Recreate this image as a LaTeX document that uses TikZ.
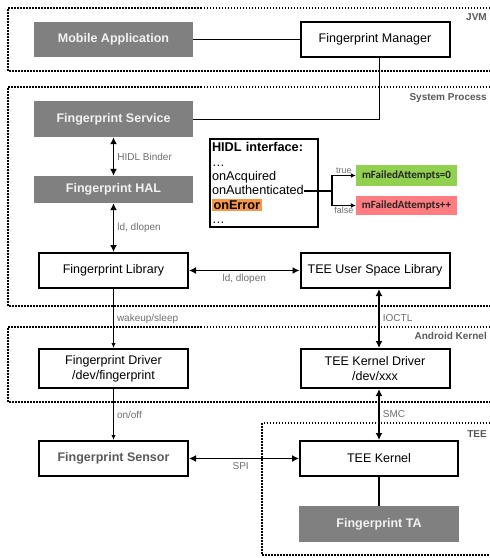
\documentclass[tikz,border=0pt]{standalone}
\usepackage{fontspec}
\setmainfont{Liberation Sans}
\newfontfamily\calibri{Carlito}
\usepackage{tikz}
\usetikzlibrary{shapes,arrows.meta}
\definecolor{boxgray}{HTML}{808080}
\definecolor{boxtext}{HTML}{F2F2F2}
\definecolor{labelgray}{HTML}{595959}
\definecolor{edgegray}{HTML}{6E6E6E}
\definecolor{okgreen}{HTML}{92D050}
\definecolor{failred}{HTML}{FF7C80}
\definecolor{errorange}{HTML}{F79646}
\tikzstyle{grayblock} = [rectangle, fill=boxgray, text=boxtext, text centered,
    font=\bfseries\fontsize{12.5}{15}\selectfont, minimum width=159pt, minimum height=36pt, inner sep=0pt]
\tikzstyle{block} = [rectangle, draw, line width=2pt, fill=white, align=center,
    font=\fontsize{12.5}{15}\selectfont, minimum width=149pt, minimum height=35pt, inner sep=0pt]
\tikzstyle{flagbox} = [rectangle, text=black!85, font=\calibri\bfseries\fontsize{11}{13}\selectfont,
    minimum width=101pt, inner sep=0pt]
\tikzstyle{zone} = [draw, line width=1.5pt, dash pattern=on 1.5pt off 1.5pt]
\tikzstyle{zonelabel} = [anchor=east, text=labelgray, font=\bfseries\fontsize{10}{12}\selectfont, inner sep=0pt]
\tikzstyle{edgelabel} = [text=edgegray, font=\fontsize{10}{12}\selectfont, inner sep=3pt]
\tikzset{
  biline/.style ={draw, line width=1.8pt, {Latex[length=7pt,width=7pt]}-{Latex[length=7pt,width=7pt]}},
  oneline/.style ={draw, line width=1pt, -{Latex[length=5pt,width=4.5pt]}},
  plainline/.style ={draw, line width=1pt}
}

\begin{document}
\begin{tikzpicture}[x=1pt, y=-1pt, node distance=80pt]
   \useasboundingbox (0,0) rectangle (490,558);
   % zones
   \draw[zone] (490,8) -- (8,8) -- (8,71) -- (490,71);
   \draw[zone] (490,87) -- (8,87) -- (8,306) -- (490,306);
   \draw[zone] (490,327) -- (8,327) -- (8,402) -- (490,402);
   \draw[zone] (490,423) -- (262,423) -- (262,555) -- (490,555);
   \node [zonelabel] (jvm_label) at (487,17) {JVM};
   \node [zonelabel] (system_label) at (487,98) {System Process};
   \node [zonelabel] (kernel_label) at (487,336) {Android Kernel};
   \node [zonelabel] (tee_label) at (487,434) {TEE};
   % left column
   \node [grayblock, minimum height=35pt] (mobile_app) at (113.5,39.5) {Mobile Application};
   \node [grayblock, below of=mobile_app, node distance=79.5pt] (fp_service) {Fingerprint Service};
   \node [grayblock, below of=fp_service, node distance=70.5pt, minimum height=27pt] (fp_hal) {Fingerprint HAL};
   \node [block, below of=fp_hal, node distance=81pt] (fp_library) {Fingerprint Library};
   \node [block, below of=fp_library, node distance=98pt, minimum height=39pt] (fp_driver) {Fingerprint Driver\\/dev/fingerprint};
   \node [block, below of=fp_driver, node distance=90pt, text=labelgray, font=\bfseries\fontsize{12.5}{15}\selectfont] (fp_sensor) {Fingerprint Sensor};
   % right column
   \node [block, right of=mobile_app, node distance=261.5pt] (fp_manager) {Fingerprint Manager};
   \node [block, right of=fp_library, node distance=261.5pt] (tee_userlib) {TEE User Space Library};
   \node [block, right of=fp_driver, node distance=261.5pt, minimum height=39pt] (tee_driver) {TEE Kernel Driver\\/dev/xxx};
   \node [block, right of=fp_sensor, node distance=265.5pt, minimum width=158pt] (tee_kernel) {TEE Kernel};
   \node [grayblock, below of=tee_kernel, node distance=65.5pt, minimum width=160pt] (fp_ta) {Fingerprint TA};
   % HIDL callbacks
   \node [draw, line width=2pt, anchor=north west, align=left, inner xsep=2pt, inner ysep=3.5pt, text width=104pt,
          font=\fontsize{12.7}{14.4}\selectfont] (hidl_iface) at (209,138)
         {\textbf{HIDL interface:}\\\dots\\onAcquired\\onAuthenticated\\
          {\setlength{\fboxsep}{1.5pt}\colorbox{errorange}{\textbf{onError}}}\\\dots};
   \node [flagbox, fill=okgreen, minimum height=21pt] (attempts_reset) at (406.5,175.5) {mFailedAttempts=0};
   \node [flagbox, fill=failred, minimum height=19pt] (attempts_inc) at (406.5,205.5) {mFailedAttempts++};
   \coordinate (on_auth) at (304,191);
   \coordinate (branch) at (332,191);
   % connectors
   \path [plainline] (mobile_app) -- (fp_manager);
   \path [plainline] ([xshift=4pt]fp_manager.south) |- (fp_service.east);
   \path [biline] (fp_service) -- node [edgelabel, right] {HIDL Binder} (fp_hal);
   \path [biline] (fp_hal) -- node [edgelabel, right] {ld, dlopen} (fp_library);
   \path [biline] (fp_library) -- node [edgelabel, below] {ld, dlopen} (tee_userlib);
   \path [oneline] (fp_library) -- node [edgelabel, right] {wakeup/sleep} (fp_driver);
   \path [biline] ([xshift=4pt]tee_userlib.south) -- node [edgelabel, right] {IOCTL} ([xshift=4pt]tee_driver.north);
   \path [oneline] (fp_driver) -- node [edgelabel, right] {on/off} (fp_sensor);
   \path [biline] ([xshift=4pt]tee_driver.south) -- node [edgelabel, right] {SMC} (tee_kernel.north);
   \path [biline] (fp_sensor) -- node [edgelabel, below, pos=0.47] {SPI} (tee_kernel);
   \path [draw, line width=2pt] (tee_kernel) -- (fp_ta);
   \path [draw, line width=2pt] (on_auth) -- (branch);
   \path [draw, line width=1.3pt, -{Latex[length=5pt,width=5pt]}] (branch) |- node [edgelabel, near end, above, inner sep=1pt, font=\fontsize{9}{11}\selectfont] {true} (attempts_reset.west);
   \path [draw, line width=1.3pt, -{Latex[length=5pt,width=5pt]}] (branch) |- node [edgelabel, near end, below, inner sep=1pt, font=\fontsize{9}{11}\selectfont] {false} (attempts_inc.west);
\end{tikzpicture}
\end{document}
